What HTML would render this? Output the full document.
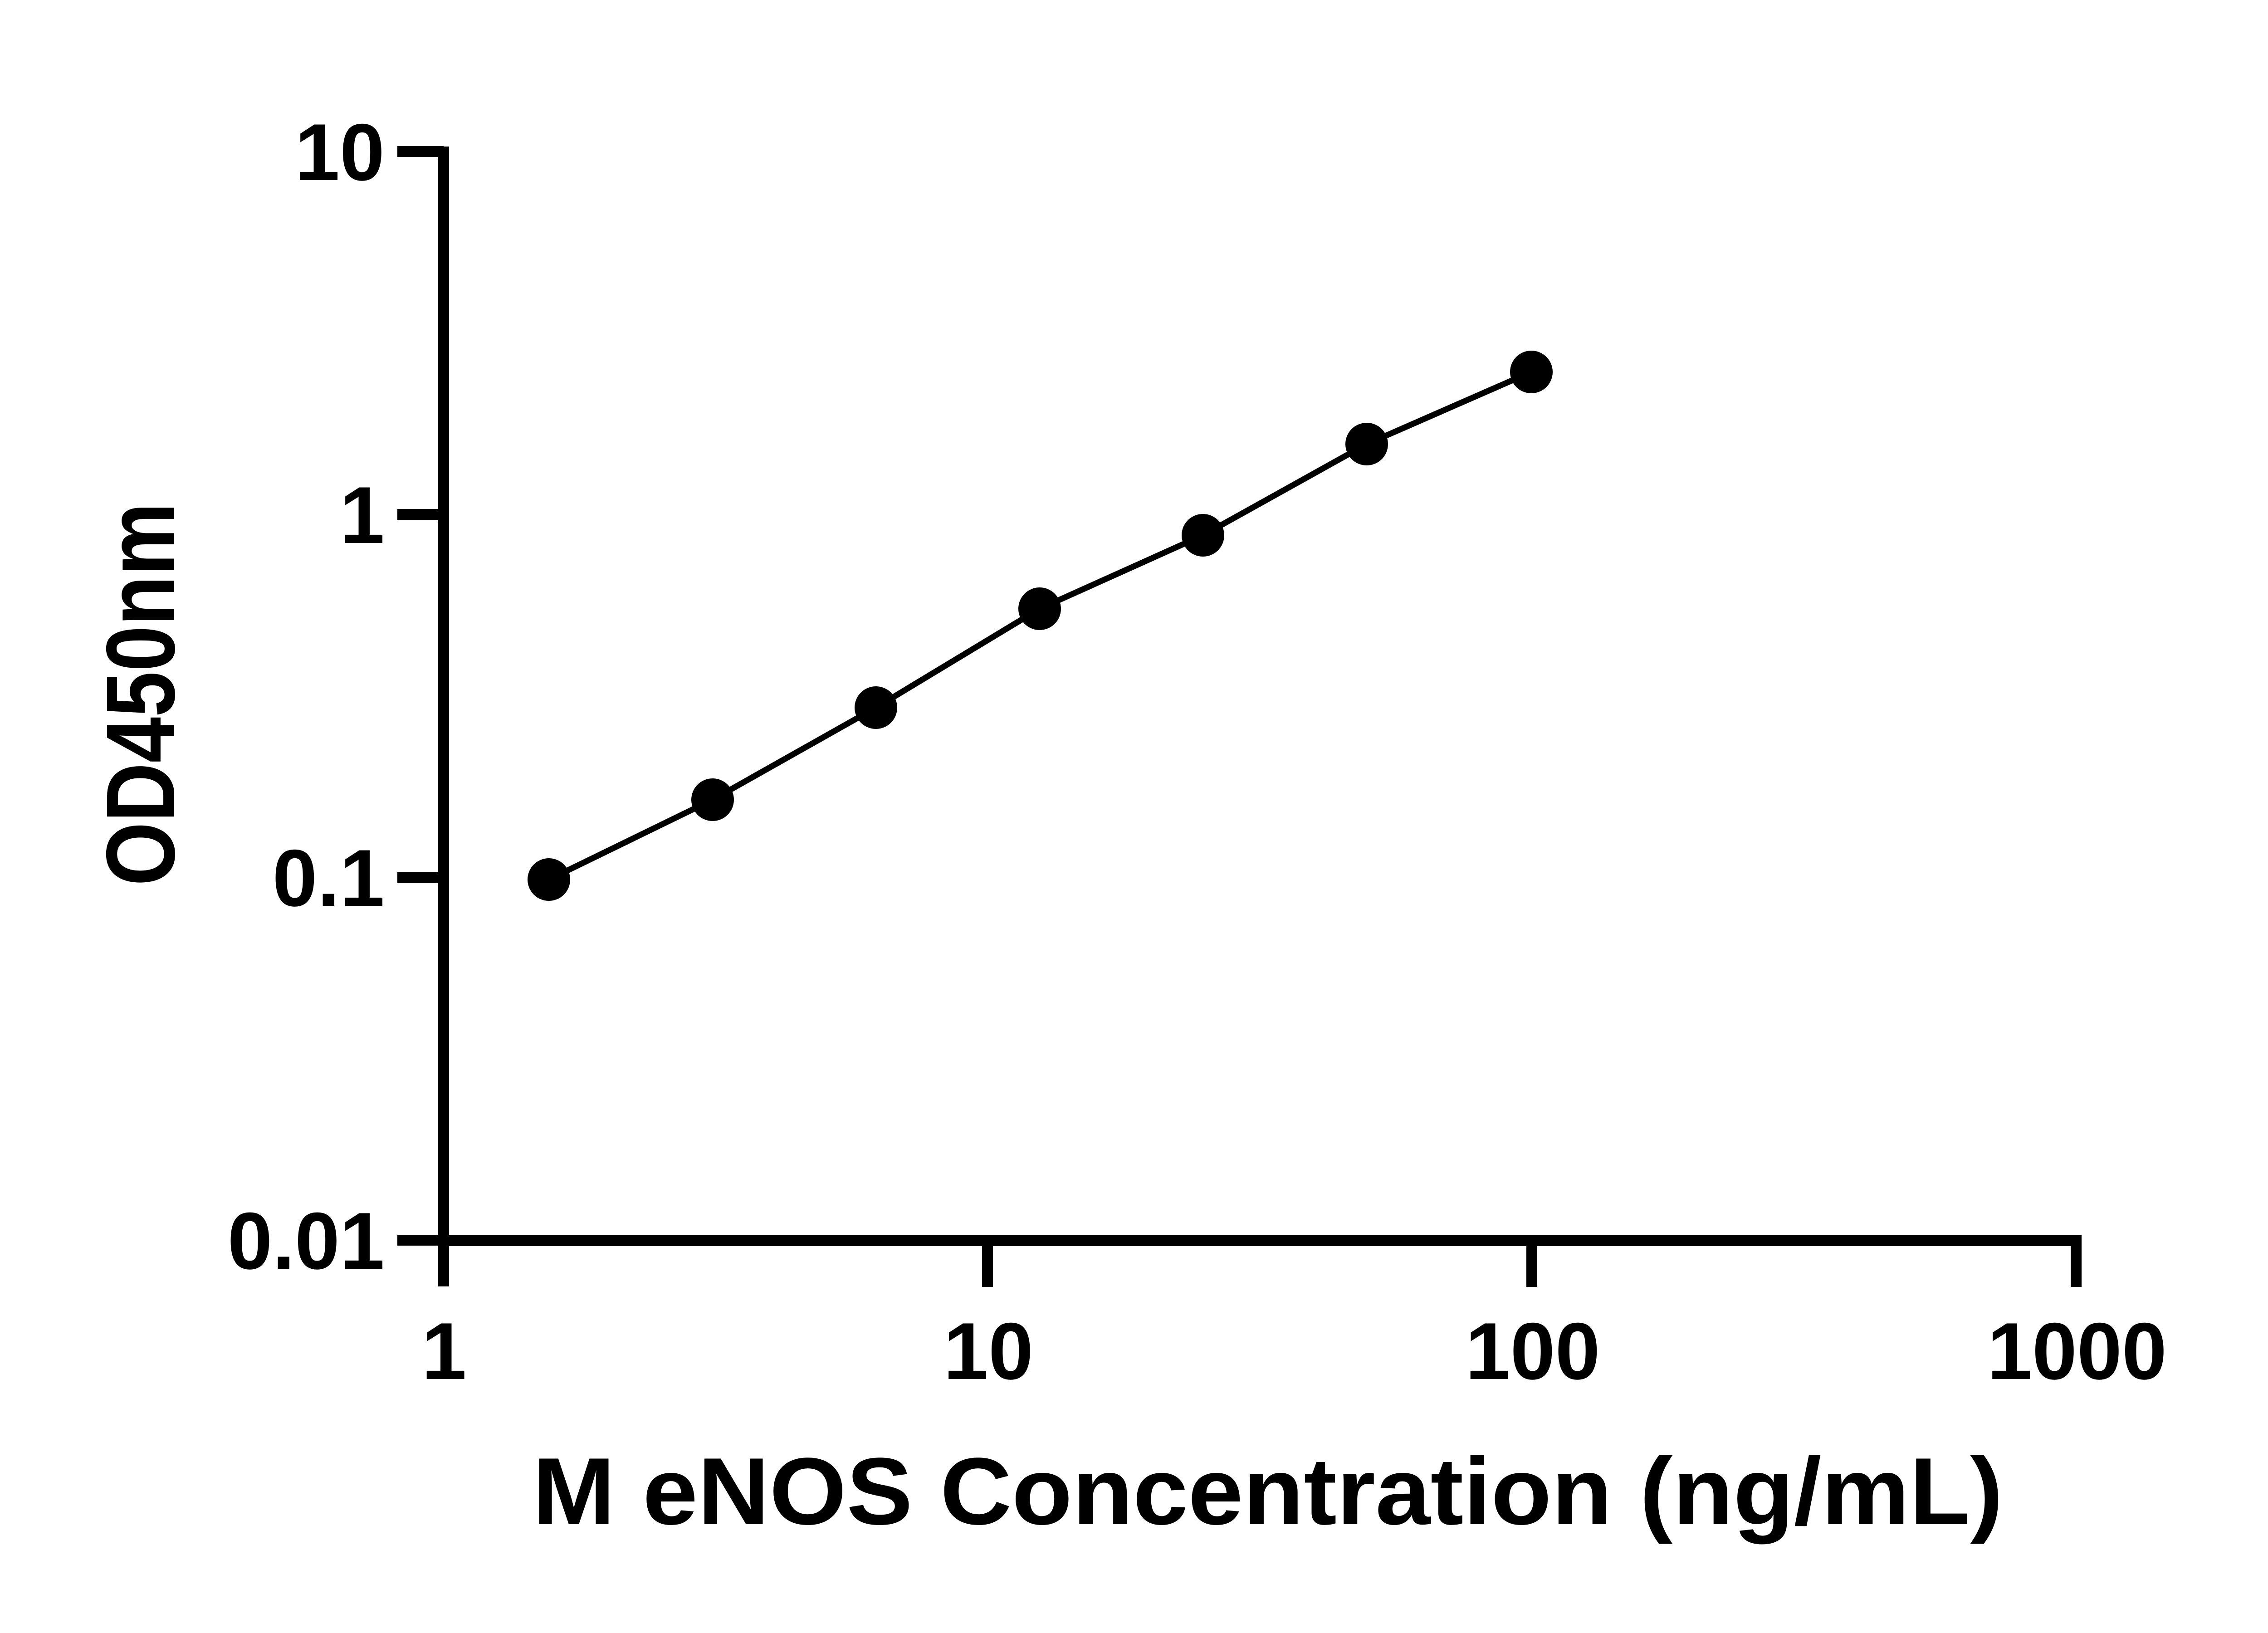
<!DOCTYPE html>
<html><head><meta charset="utf-8"><style>
html,body{margin:0;padding:0;background:#fff;}
svg{display:block;}
text{font-family:"Liberation Sans",sans-serif;font-weight:bold;fill:#000;}
</style></head><body>
<svg width="5130" height="3600" viewBox="0 0 5130 3600" xmlns="http://www.w3.org/2000/svg">
<rect width="5130" height="3600" fill="#fff"/>
<line x1="978" y1="323" x2="978" y2="2836" stroke="#000" stroke-width="24"/>
<line x1="966" y1="2735" x2="4585" y2="2735" stroke="#000" stroke-width="24"/>
<g stroke="#000" stroke-width="24">
<line x1="876" y1="334" x2="978" y2="334"/>
<line x1="876" y1="1134" x2="978" y2="1134"/>
<line x1="876" y1="1934" x2="978" y2="1934"/>
<line x1="876" y1="2734" x2="978" y2="2734"/>
<line x1="2177" y1="2735" x2="2177" y2="2837"/>
<line x1="3377" y1="2735" x2="3377" y2="2837"/>
<line x1="4577" y1="2723" x2="4577" y2="2837"/>
</g>
<g font-size="178" text-anchor="end">
<text x="848" y="397">10</text>
<text x="848" y="1197">1</text>
<text x="848" y="1997">0.1</text>
<text x="848" y="2797">0.01</text>
</g>
<g font-size="178" text-anchor="middle">
<text x="979" y="3040">1</text>
<text x="2179" y="3040">10</text>
<text x="3379" y="3040">100</text>
<text x="4579" y="3040">1000</text>
</g>
<text x="1174" y="3360" font-size="210" textLength="3242" lengthAdjust="spacingAndGlyphs">M eNOS Concentration (ng/mL)</text>
<text transform="translate(384,1953) rotate(-90)" font-size="215" textLength="845" lengthAdjust="spacingAndGlyphs">OD450nm</text>
<polyline fill="none" stroke="#000" stroke-width="13" points="1210,1939 1571,1763 1931,1560 2292,1342 2652,1180 3013,979 3376,820"/>
<g fill="#000">
<circle cx="1210" cy="1939" r="47"/>
<circle cx="1571" cy="1763" r="47"/>
<circle cx="1931" cy="1560" r="47"/>
<circle cx="2292" cy="1342" r="47"/>
<circle cx="2652" cy="1180" r="47"/>
<circle cx="3013" cy="979" r="47"/>
<circle cx="3376" cy="820" r="47"/>
</g>
</svg>
</body></html>
